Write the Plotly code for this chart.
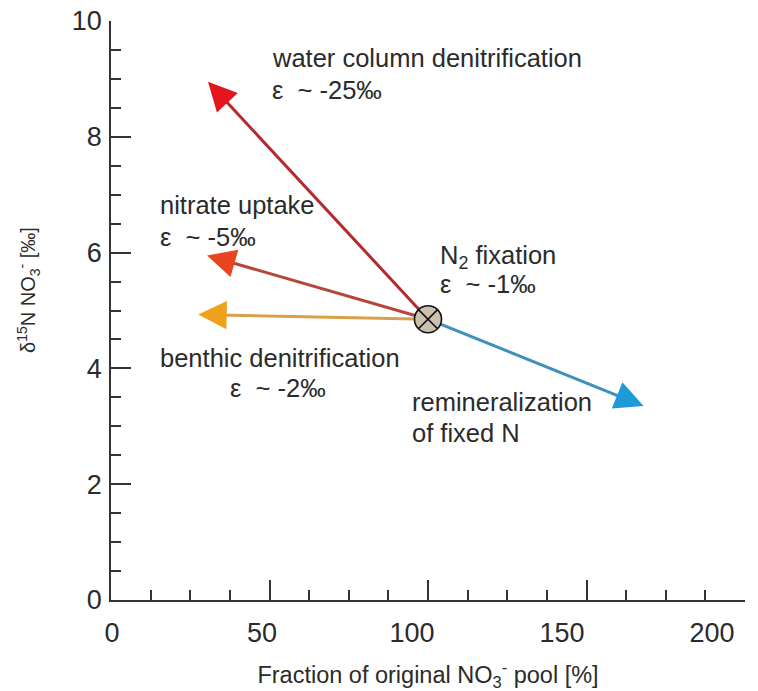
import math
import plotly.graph_objects as go

# ---- data ----
origin = (100, 4.85)
process_names = ["water column denitrification", "nitrate uptake", "benthic denitrification", "remineralization"]
tip_x = [30.6, 30.3, 27.5, 168.0]
tip_y = [8.95, 5.95, 4.93, 3.35]
shaft_colors = ["#b52a2c", "#b5473a", "#d9a04a", "#3f8fbf"]
head_colors = ["#e4151d", "#e9461f", "#f0a11c", "#1d9ad8"]

x_ticks = [0, 50, 100, 150, 200]
y_ticks = [0, 2, 4, 6, 8, 10]
x_range = [0, 200]
y_range = [0, 10]

labels = [
    ("water column denitrification", 50.2, 9.36),
    ("ε\u00a0\u00a0~ -25‰", 50.2, 8.81),
    ("nitrate uptake", 14.8, 6.82),
    ("ε\u00a0\u00a0~ -5‰", 14.8, 6.27),
    ("N<sub>2</sub> fixation", 103.0, 5.93),
    ("ε\u00a0\u00a0~ -1‰", 103.0, 5.45),
    ("benthic denitrification", 14.8, 4.18),
    ("ε\u00a0\u00a0~ -2‰", 37.0, 3.66),
    ("remineralization", 94.3, 3.42),
    ("of fixed N", 94.3, 2.88),
]

# page has an 8px body margin, so the figure is 8px smaller than the window
W, H = 750, 683
ML, MR, MT, MB = 103, 13, 13, 91
FONT = "Liberation Sans, Arial, sans-serif"
TXT = "#2b2b2b"

# pixel scale of the plot area (for arrow geometry)
kx = (W - ML - MR) / (x_range[1] - x_range[0])
ky = (H - MT - MB) / (y_range[1] - y_range[0])

fig = go.Figure()

for i, name in enumerate(process_names):
    dxp = (origin[0] - tip_x[i]) * kx
    dyp = -(origin[1] - tip_y[i]) * ky
    L = math.hypot(dxp, dyp)
    ux, uy = dxp / L, dyp / L
    back = 10.0  # shaft ends inside arrowhead
    ex = tip_x[i] + ux * back / kx
    ey = tip_y[i] - uy * back / ky
    fig.add_trace(go.Scatter(x=[origin[0], ex], y=[origin[1], ey], mode="lines",
                             line=dict(color=shaft_colors[i], width=3),
                             hoverinfo="skip", showlegend=False, name=name))
    fig.add_annotation(x=tip_x[i], y=tip_y[i], ax=ux * 20, ay=uy * 20,
                       xref="x", yref="y", text="", showarrow=True,
                       font=dict(size=1),
                       arrowhead=2, arrowsize=1.9, arrowwidth=3, arrowcolor=head_colors[i])

fig.add_trace(go.Scatter(x=[origin[0]], y=[origin[1]], mode="markers",
                         marker=dict(symbol="circle-x", size=27, color="#cbbfae",
                                     line=dict(color="#111111", width=1.6)),
                         hoverinfo="skip", showlegend=False))
# invisible companion trace so the tick-label axis (x2) is drawn
fig.add_trace(go.Scatter(x=[origin[0]], y=[origin[1]], xaxis="x2", yaxis="y", mode="markers",
                         marker=dict(size=1, opacity=0), hoverinfo="skip", showlegend=False))

for txt, lx, ly in labels:
    fig.add_annotation(x=lx, y=ly, xref="x", yref="y", text=txt, showarrow=False,
                       xanchor="left", yanchor="middle",
                       font=dict(family=FONT, size=25.5, color=TXT))

# y-axis title (placed slightly above centre, as in the reference)
fig.add_annotation(x=-(111 - 28) / (W - ML - MR), y=(600 - 290) / (H - MT - MB),
                   xref="paper", yref="paper", showarrow=False, textangle=-90,
                   xanchor="center", yanchor="middle",
                   text="δ<sup>15</sup>N NO<sub>3</sub><sup>-</sup> [‰]",
                   font=dict(family=FONT, size=20, color=TXT))

axis_common = dict(showgrid=False, zeroline=False, showline=True, linecolor="#333333",
                   linewidth=1.5, ticks="inside", ticklen=20, tickwidth=1.5, tickcolor="#333333",
                   automargin=False)

fig.update_layout(
    width=W, height=H, margin=dict(l=ML, r=MR, t=MT, b=MB, autoexpand=False),
    plot_bgcolor="white", paper_bgcolor="white", showlegend=False,
    xaxis=dict(range=x_range, tickvals=x_ticks, showticklabels=False,
               minor=dict(ticks="inside", ticklen=10, dtick=12.5, tickwidth=1.5, tickcolor="#333333"),
               title=dict(text="Fraction of original NO<sub>3</sub><sup>-</sup> pool [%]",
                          font=dict(family=FONT, size=23.5, color=TXT), standoff=70),
               **axis_common),
    xaxis2=dict(range=[-0.33, 211], overlaying="x", anchor="y", side="bottom",
                tickvals=x_ticks, ticktext=[str(v) for v in x_ticks], ticks="",
                showline=False, showgrid=False, zeroline=False, ticklabelstandoff=14,
                automargin=False, ticklabeloverflow="allow",
                tickfont=dict(family=FONT, size=27, color=TXT)),
    yaxis=dict(range=y_range, tickvals=y_ticks,
               minor=dict(ticks="inside", ticklen=10, dtick=0.5, tickwidth=1.5, tickcolor="#333333"),
               tickfont=dict(family=FONT, size=27, color=TXT), ticklabelstandoff=2,
               ticklabeloverflow="allow",
               **axis_common),
)

fig.write_html("out.html")
